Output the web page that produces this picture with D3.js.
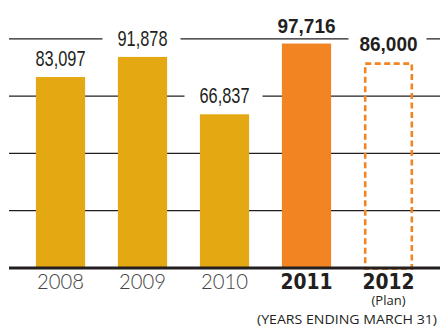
<!DOCTYPE html>
<html>
<head>
<meta charset="utf-8">
<script src="https://cdn.jsdelivr.net/npm/d3@7"></script>
<style>
  body { margin: 0; background: #fff; }
  svg { display: block; }
</style>
</head>
<body>
<div id="chart"></div>
<script>
// Data
const years = ['2008', '2009', '2010', '2011', '2012'];
const values = [83097, 91878, 66837, 97716, 89500]; // 2012 box is drawn taller than its label in the original
const valueLabels = ['83,097', '91,878', '66,837', '97,716', '86,000'];
const gridTicks = [25000, 50000, 75000, 100000];

const width = 440;
const height = 327;

const svg = d3.select('#chart')
    .append('svg')
    .attr('width', width)
    .attr('height', height);

// Scales
const x = d3.scaleBand()
    .domain(years)
    .range([19.5, 429.5])
    .paddingInner(0.4)
    .paddingOuter(0.2);

const y = d3.scaleLinear()
    .domain([0, 100000])
    .range([267.5, 38.3]);

const gold = '#e4a813';
const orange = '#f28522';

// Gridlines
const grid = svg.append('g')
    .attr('transform', 'translate(9,0)')
    .call(d3.axisRight(y).tickValues(gridTicks).tickSize(width - 9).tickFormat(''));
grid.select('.domain').remove();
grid.selectAll('line').attr('stroke', '#231f20').attr('stroke-width', 1.2);

// White boxes behind value labels break the gridlines
svg.append('g')
    .selectAll('rect')
    .data(years)
    .enter()
    .append('rect')
    .attr('x', d => x(d) + x.bandwidth() / 2 - 40)
    .attr('y', (d, i) => y(values[i]) - 28)
    .attr('width', 78)
    .attr('height', 20)
    .attr('fill', '#fff');

// Bars
svg.append('g')
    .selectAll('rect')
    .data(years.slice(0, 4))
    .enter()
    .append('rect')
    .attr('x', d => x(d))
    .attr('y', (d, i) => y(values[i]))
    .attr('width', x.bandwidth())
    .attr('height', (d, i) => y(0) - y(values[i]))
    .attr('fill', (d, i) => i === 3 ? orange : gold);

// Plan year: dashed outline
svg.append('rect')
    .attr('x', x('2012') + 1.3)
    .attr('y', y(values[4]) + 1.3)
    .attr('width', x.bandwidth() - 2.6)
    .attr('height', y(0) - y(values[4]))
    .attr('fill', 'none')
    .attr('stroke', orange)
    .attr('stroke-width', 2.6)
    .attr('stroke-dasharray', '6,3.5');

// Value labels (condensed in the original)
svg.append('g')
    .selectAll('text')
    .data(years)
    .enter()
    .append('text')
    .attr('x', d => x(d) + x.bandwidth() / 2)
    .attr('y', (d, i) => y(values[i]) - 11)
    .attr('text-anchor', 'middle')
    .attr('font-family', '"Liberation Sans", Arial, sans-serif')
    .attr('font-weight', (d, i) => i < 3 ? 'normal' : 'bold')
    .attr('font-size', (d, i) => i < 3 ? '22.5px' : '20px')
    .attr('textLength', (d, i) => i < 3 ? 50 : 58)
    .attr('lengthAdjust', 'spacingAndGlyphs')
    .attr('fill', '#231f20')
    .text((d, i) => valueLabels[i]);

// Baseline
svg.append('line')
    .attr('x1', 9)
    .attr('x2', width)
    .attr('y1', y(0) + 0.5)
    .attr('y2', y(0) + 0.5)
    .attr('stroke', '#231f20')
    .attr('stroke-width', 3);

// Year labels
svg.append('g')
    .selectAll('text')
    .data(years)
    .enter()
    .append('text')
    .attr('x', d => x(d) + x.bandwidth() / 2)
    .attr('y', 289)
    .attr('text-anchor', 'middle')
    .attr('font-family', (d, i) => i < 3 ? 'Lato, "Open Sans", sans-serif' : '"DejaVu Sans", sans-serif')
    .attr('font-weight', (d, i) => i < 3 ? 300 : 'bold')
    .attr('font-size', (d, i) => i < 3 ? '22px' : '21px')
    .attr('textLength', (d, i) => i < 3 ? 47 : 52)
    .attr('lengthAdjust', 'spacingAndGlyphs')
    .attr('fill', (d, i) => i < 3 ? '#444' : '#231f20')
    .text(d => d);

svg.append('text')
    .attr('x', x('2012') + x.bandwidth() / 2)
    .attr('y', 305)
    .attr('text-anchor', 'middle')
    .attr('font-family', '"Open Sans", sans-serif')
    .attr('font-size', '13px')
    .attr('fill', '#231f20')
    .text('(Plan)');

svg.append('text')
    .attr('x', 437)
    .attr('y', 324)
    .attr('text-anchor', 'end')
    .attr('font-family', '"Open Sans", sans-serif')
    .attr('font-size', '13.5px')
    .attr('textLength', 180)
    .attr('lengthAdjust', 'spacingAndGlyphs')
    .attr('fill', '#231f20')
    .text('(YEARS ENDING MARCH 31)');
</script>
</body>
</html>
